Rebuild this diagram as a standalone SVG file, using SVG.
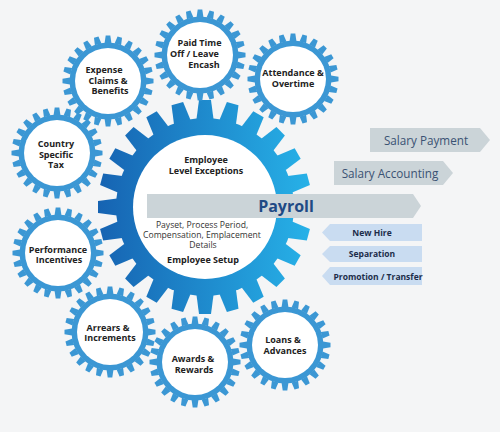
<svg xmlns="http://www.w3.org/2000/svg" xmlns:xlink="http://www.w3.org/1999/xlink" width="500" height="432" viewBox="0 0 500 432">
<style>
.gt{font-family:"Open Sans","Noto Sans","Liberation Sans",sans-serif;font-weight:700;font-size:9px;fill:#222;text-anchor:middle}
.ct{font-family:"Open Sans","Noto Sans","Liberation Sans",sans-serif;font-size:8.6px;fill:#333;text-anchor:middle}
.sal{font-family:"Open Sans","Noto Sans","Liberation Sans",sans-serif;font-size:11.7px;fill:#3a5273;text-anchor:middle}
.bl{font-family:"Open Sans","Noto Sans","Liberation Sans",sans-serif;font-weight:700;font-size:8.5px;fill:#1c2d4a;text-anchor:middle}
.gray{fill:#cbd4d8}
.blue{fill:#c9dcf1}
</style>
<defs>
<linearGradient id="bg" gradientUnits="userSpaceOnUse" x1="98" y1="0" x2="312" y2="0">
<stop offset="0" stop-color="#1663b2"/>
<stop offset="1" stop-color="#27b2e8"/>
</linearGradient>
<polygon id="st" points="-3.4,-38 3.4,-38 2.3,-45.5 -2.3,-45.5"/>
<polygon id="bt" points="-8.5,-88 8.5,-88 6,-107 -6,-107"/>
<g id="sg">
<g fill="#3b97d4">
<circle r="38.5"/>
<use xlink:href="#st"/><use xlink:href="#st" transform="rotate(15)"/><use xlink:href="#st" transform="rotate(30)"/><use xlink:href="#st" transform="rotate(45)"/>
<use xlink:href="#st" transform="rotate(60)"/><use xlink:href="#st" transform="rotate(75)"/><use xlink:href="#st" transform="rotate(90)"/><use xlink:href="#st" transform="rotate(105)"/>
<use xlink:href="#st" transform="rotate(120)"/><use xlink:href="#st" transform="rotate(135)"/><use xlink:href="#st" transform="rotate(150)"/><use xlink:href="#st" transform="rotate(165)"/>
<use xlink:href="#st" transform="rotate(180)"/><use xlink:href="#st" transform="rotate(195)"/><use xlink:href="#st" transform="rotate(210)"/><use xlink:href="#st" transform="rotate(225)"/>
<use xlink:href="#st" transform="rotate(240)"/><use xlink:href="#st" transform="rotate(255)"/><use xlink:href="#st" transform="rotate(270)"/><use xlink:href="#st" transform="rotate(285)"/>
<use xlink:href="#st" transform="rotate(300)"/><use xlink:href="#st" transform="rotate(315)"/><use xlink:href="#st" transform="rotate(330)"/><use xlink:href="#st" transform="rotate(345)"/>
</g>
<circle r="33" fill="#fff"/>
</g>
<mask id="bm" maskUnits="userSpaceOnUse" x="0" y="0" width="500" height="432">
<g transform="translate(205,207)" fill="#fff">
<circle r="89"/>
<use xlink:href="#bt"/><use xlink:href="#bt" transform="rotate(15)"/><use xlink:href="#bt" transform="rotate(30)"/><use xlink:href="#bt" transform="rotate(45)"/>
<use xlink:href="#bt" transform="rotate(60)"/><use xlink:href="#bt" transform="rotate(75)"/><use xlink:href="#bt" transform="rotate(90)"/><use xlink:href="#bt" transform="rotate(105)"/>
<use xlink:href="#bt" transform="rotate(120)"/><use xlink:href="#bt" transform="rotate(135)"/><use xlink:href="#bt" transform="rotate(150)"/><use xlink:href="#bt" transform="rotate(165)"/>
<use xlink:href="#bt" transform="rotate(180)"/><use xlink:href="#bt" transform="rotate(195)"/><use xlink:href="#bt" transform="rotate(210)"/><use xlink:href="#bt" transform="rotate(225)"/>
<use xlink:href="#bt" transform="rotate(240)"/><use xlink:href="#bt" transform="rotate(255)"/><use xlink:href="#bt" transform="rotate(270)"/><use xlink:href="#bt" transform="rotate(285)"/>
<use xlink:href="#bt" transform="rotate(300)"/><use xlink:href="#bt" transform="rotate(315)"/><use xlink:href="#bt" transform="rotate(330)"/><use xlink:href="#bt" transform="rotate(345)"/>
</g>
</mask>
</defs>
<rect width="500" height="432" fill="#f4f5f6"/>

<g id="payroll-gear">
<rect x="95" y="97" width="220" height="220" fill="url(#bg)" mask="url(#bm)"/>
<circle cx="205" cy="207" r="72" fill="#fff"/>
<text class="gt" x="206" y="163">Employee</text>
<text class="gt" x="206" y="174">Level Exceptions</text>
</g>

<g id="paid-time-off">
<use xlink:href="#sg" x="200" y="55"/>
<text class="gt" x="199.5" y="46">Paid Time</text>
<text class="gt" x="194.5" y="57">Off / Leave</text>
<text class="gt" x="204" y="68">Encash</text>
</g>
<g id="attendance">
<use xlink:href="#sg" x="293" y="79"/>
<text class="gt" x="293" y="76">Attendance &amp;</text>
<text class="gt" x="293" y="87">Overtime</text>
</g>
<g id="expense-claims">
<use xlink:href="#sg" x="108" y="81"/>
<text class="gt" x="104" y="73">Expense</text>
<text class="gt" x="108" y="84">Claims &amp;</text>
<text class="gt" x="110" y="94">Benefits</text>
</g>
<g id="country-tax">
<use xlink:href="#sg" x="57" y="153"/>
<text class="gt" x="56" y="147">Country</text>
<text class="gt" x="56" y="158">Specific</text>
<text class="gt" x="56" y="168">Tax</text>
</g>
<g id="performance">
<use xlink:href="#sg" x="58" y="253"/>
<text class="gt" x="58" y="253">Performance</text>
<text class="gt" x="59" y="263">Incentives</text>
</g>
<g id="arrears">
<use xlink:href="#sg" x="110" y="332"/>
<text class="gt" x="108" y="331">Arrears &amp;</text>
<text class="gt" x="110" y="341">Increments</text>
</g>
<g id="awards">
<use xlink:href="#sg" x="195" y="362"/>
<text class="gt" x="193" y="362">Awards &amp;</text>
<text class="gt" x="194" y="373">Rewards</text>
</g>
<g id="loans">
<use xlink:href="#sg" x="285" y="345"/>
<text class="gt" x="283" y="343">Loans &amp;</text>
<text class="gt" x="285" y="354">Advances</text>
</g>

<g id="payroll-bar">
<polygon class="gray" points="147,194 413,194 421,206 413,218 147,218"/>
<text x="286" y="211.5" font-family="Open Sans, Noto Sans, Liberation Sans, sans-serif" font-weight="700" font-size="16" fill="#1f4a85" text-anchor="middle">Payroll</text>
</g>
<g id="employee-setup">
<text class="ct" x="202" y="228">Payset, Process Period,</text>
<text class="ct" x="202" y="238">Compensation, Emplacement</text>
<text class="ct" x="203" y="248">Details</text>
<text class="gt" x="203" y="263">Employee Setup</text>
</g>

<g id="salary-payment">
<polygon class="gray" points="370,128 480,128 490,140 480,152 370,152"/>
<text class="sal" x="426" y="145">Salary Payment</text>
</g>
<g id="salary-accounting">
<polygon class="gray" points="334,161 443,161 453,173 443,185 334,185"/>
<text class="sal" x="390" y="177.5">Salary Accounting</text>
</g>

<g id="new-hire">
<polygon class="blue" points="330,224 422,224 422,241 330,241 322,232.5"/>
<text class="bl" x="372" y="236">New Hire</text>
</g>
<g id="separation">
<polygon class="blue" points="330,246 422,246 422,262 330,262 322,254"/>
<text class="bl" x="372" y="257">Separation</text>
</g>
<g id="promotion">
<polygon class="blue" points="330,267 422,267 422,285 330,285 322,276"/>
<text class="bl" x="378" y="279.5">Promotion / Transfer</text>
</g>
</svg>
